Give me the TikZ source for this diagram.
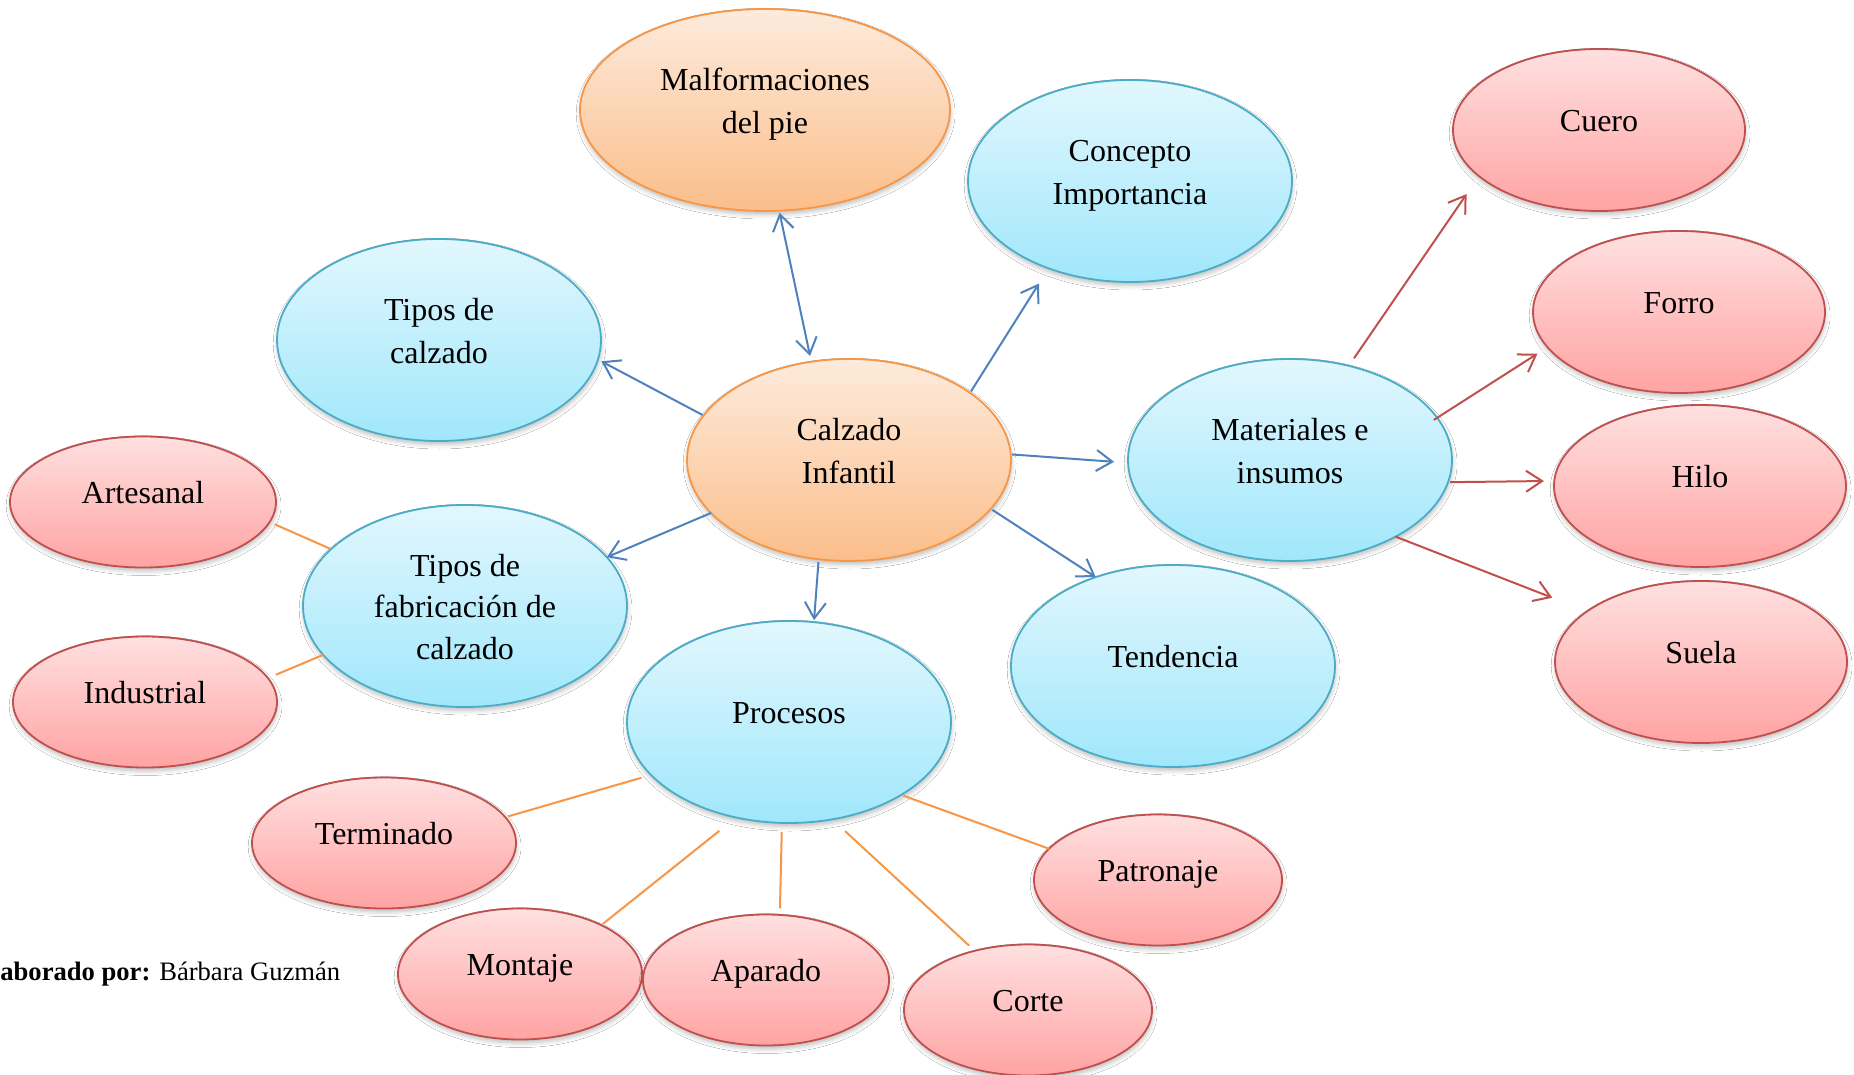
\documentclass[tikz,border=0pt]{standalone}
\usepackage{fontspec}
\setmainfont{Liberation Serif}
\usetikzlibrary{shapes.geometric,arrows.meta,shadows.blur}

% bubble fills and outlines
\definecolor{skyTop}{HTML}{E2F7FE}
\definecolor{skyBot}{HTML}{A0E7FB}
\definecolor{skyLine}{HTML}{4BACC6}
\definecolor{peachTop}{HTML}{FDEBDD}
\definecolor{peachBot}{HTML}{FBBE8A}
\definecolor{peachLine}{HTML}{F79646}
\definecolor{roseTop}{HTML}{FFE0E0}
\definecolor{roseBot}{HTML}{FFA3A3}
\definecolor{roseLine}{HTML}{C0504D}
% connector colours
\definecolor{linkBlue}{HTML}{4F81BD}
\definecolor{linkRed}{HTML}{C0504D}
\definecolor{linkOrange}{HTML}{F79646}

% text of a bubble: #1 = lift of the first baseline above the centre
\newcommand\bubtext[2]{\raisebox{#1}[0pt][0pt]{\begin{tabular}[t]{@{}c@{}}#2\end{tabular}}}

\begin{document}
\begin{tikzpicture}[x=0.5pt,y=-0.5pt,
  >={Straight Barb[length=8pt,width=10.5pt]},
  bubble/.style={ellipse, inner sep=0pt, outer sep=0pt, line width=0.9pt,
    font=\fontsize{16}{21.3}\selectfont,
    blur shadow={shadow xshift=0.3pt, shadow yshift=-1.8pt,
      shadow blur radius=2.2pt, shadow opacity=25}},
  sky/.style={bubble, draw=skyLine, top color=skyTop, bottom color=skyBot},
  peach/.style={bubble, draw=peachLine, top color=peachTop, bottom color=peachBot},
  rose/.style={bubble, draw=roseLine, top color=roseTop, bottom color=roseBot},
  big/.style={minimum width=162pt, minimum height=101pt},
  mid/.style={minimum width=146pt, minimum height=81pt},
  small/.style={minimum width=#1pt, minimum height=65.5pt},
  blink/.style={draw=linkBlue, line width=1pt},
  rlink/.style={draw=linkRed, line width=1pt},
  olink/.style={draw=linkOrange, line width=1pt},
]
\useasboundingbox[fill=white] (0,0) rectangle (1854,1075);

% central topic and first ring
\node[peach, big] (calz) at (849,460) {\bubtext{9.6pt}{Calzado\\Infantil}};
\node[peach, minimum width=185pt, minimum height=101pt] (malf) at (765,110)
  {\bubtext{9.6pt}{Malformaciones\\del pie}};
\node[sky, big] (conc) at (1130,181) {\bubtext{9.6pt}{Concepto\\Importancia}};
\node[sky, big] (tcal) at (439,340) {\bubtext{9.6pt}{Tipos de\\calzado}};
\node[sky, big] (mat)  at (1290,460) {\bubtext{9.6pt}{Materiales e\\insumos}};
\node[sky, big] (tfab) at (465,606) {\renewcommand\arraystretch{0.975}\bubtext{15pt}{Tipos de\\fabricación de\\calzado}};
\node[sky, big] (tend) at (1173,666) {\bubtext{-0.8pt}{Tendencia}};
\node[sky, big] (proc) at (789,722) {\bubtext{-0.8pt}{Procesos}};

% materials
\node[rose, mid] (cuero) at (1599,130) {\bubtext{-0.8pt}{Cuero}};
\node[rose, mid] (forro) at (1679,312) {\bubtext{-0.8pt}{Forro}};
\node[rose, mid] (hilo)  at (1700,486) {\bubtext{-0.8pt}{Hilo}};
\node[rose, mid] (suela) at (1701,662) {\bubtext{-0.8pt}{Suela}};

% manufacturing types
\node[rose, small=133] (art) at (143,502) {\bubtext{-0.8pt}{Artesanal}};
\node[rose, small=132] (ind) at (145,702) {\bubtext{-0.8pt}{Industrial}};

% process steps
\node[rose, small=132] (term)  at (384,843)  {\bubtext{-0.8pt}{Terminado}};
\node[rose, small=122] (mont)  at (520,974)  {\bubtext{-0.8pt}{Montaje}};
\node[rose, small=123] (apar)  at (766,980)  {\bubtext{-0.8pt}{Aparado}};
\node[rose, small=124] (corte) at (1028,1010) {\bubtext{-0.8pt}{Corte}};
\node[rose, small=124] (patr)  at (1158,880) {\bubtext{-0.8pt}{Patronaje}};

% credit line
\node[anchor=base west, inner sep=0pt, font=\fontsize{13.3}{15}\selectfont] (credit)
  at (0,980) {\textbf{aborado por:} Bárbara Guzmán};

% arrows from the central topic
\draw[blink, <->, shorten <=3pt, shorten >=1pt] (calz.111.5) -- (malf.278.3);
\draw[blink, ->, shorten <=0.8pt, shorten >=9pt] (calz.29.7) -- (conc.227.7);
\draw[blink, ->, shorten <=0.6pt, shorten >=1.9pt] (calz.163.8) -- (tcal.353.4);
\draw[blink, ->, shorten <=0.7pt, shorten >=7pt] (calz.2.5) -- (mat.181.1);
\draw[blink, ->] (calz.201.5) -- (tfab.19.3);
\draw[blink, ->, shorten <=1pt] (calz.341.6) -- (tend.131.5);
\draw[blink, ->, shorten <=1.4pt, shorten >=1pt] (calz.253.6) -- (proc.76.8);

% arrows to the materials
\draw[rlink, ->, shorten <=4.6pt, shorten >=10.9pt] (mat.58.6) -- (cuero.201.5);
\draw[rlink, ->, shorten <=-2pt, shorten >=6pt] (mat.16.5) -- (forro.195.2);
\draw[rlink, ->, shorten <=1pt, shorten >=5.2pt] (mat.352.6) -- (hilo.178.5);
\draw[rlink, ->, shorten >=18.7pt] (mat.324.8) -- (suela.156.25);

% plain links
\draw[olink, shorten <=2.8pt, shorten >=0.8pt] (art.351.3) -- (tfab.157.8);
\draw[olink, shorten <=4.3pt] (ind.11.5) -- (tfab.199.1);
\draw[olink, shorten <=5pt, shorten >=1.5pt] (proc.201.8) -- (term.12.8);
\draw[olink, shorten <=10.7pt, shorten >=1pt] (proc.241.9) -- (mont.31.4);
\draw[olink, shorten <=4.5pt, shorten >=3.3pt] (proc.266.0) -- (apar.78.2);
\draw[olink, shorten <=8.7pt, shorten >=3.8pt] (proc.294.0) -- (corte.132.2);
\draw[olink, shorten <=1.2pt] (proc.327.8) -- (patr.164.8);
\end{tikzpicture}
\end{document}
